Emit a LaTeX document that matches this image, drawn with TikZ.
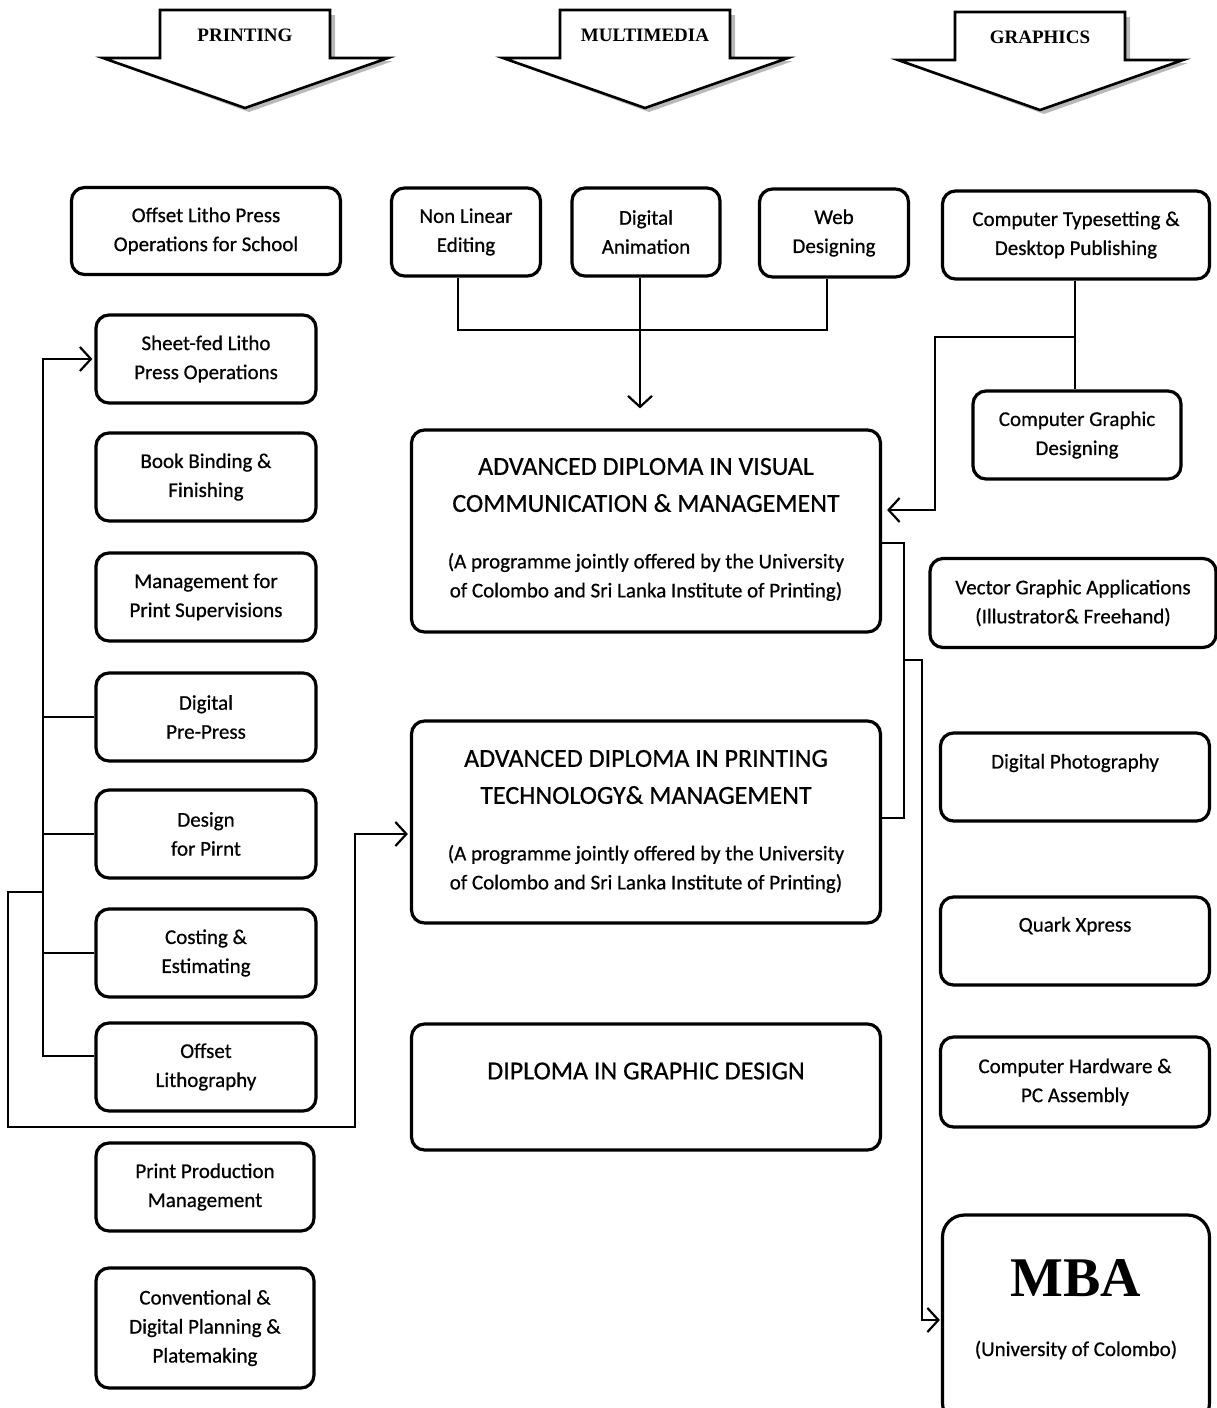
\documentclass[tikz,border=0pt]{standalone}
\usepackage{fontspec}
\setmainfont{Carlito}[FakeBold=0.6]
\newfontfamily\titleserif{Liberation Serif}
\usetikzlibrary{arrows.meta,calc}

\begin{document}
\begin{tikzpicture}[x=1pt,y=-1pt,
  course/.style={draw, line width=3.2pt, rounded corners=13pt, minimum width=220pt,
    minimum height=88pt, inner sep=0pt, align=center, font=\fontsize{21}{29}\selectfont},
  degree/.style={course, minimum width=469pt, minimum height=202pt},
  heading/.style={align=center, inner sep=0pt, font=\fontsize{26}{37}\selectfont},
  remark/.style={align=center, inner sep=0pt, font=\fontsize{21}{29}\selectfont},
  stream/.style={draw, fill=white, line width=2.6pt, line join=miter},
  streamshadow/.style={fill=gray!55},
  link/.style={line width=2.2pt},
  >={Straight Barb[length=11pt,width=24pt]}]
\useasboundingbox[fill=white] (0,0) rectangle (1217,1408);

% the three streams
\foreach \cx/\ty/\nm/\txt in {245/10/printing/PRINTING, 645/10/multimedia/MULTIMEDIA, 1040/12/graphics/GRAPHICS}{
  \fill[streamshadow] (\cx-80,\ty+5) -- (\cx+90,\ty+5) -- (\cx+90,\ty+51) -- (\cx+148,\ty+51)
    -- (\cx+4,\ty+102) -- (\cx-137,\ty+51) -- (\cx-80,\ty+51) -- cycle;
  \path[stream] (\cx-85,\ty) -- (\cx+85,\ty) -- (\cx+85,\ty+48) -- (\cx+143,\ty+48)
    -- (\cx,\ty+98) -- (\cx-142,\ty+48) -- (\cx-85,\ty+48) -- cycle;
  \node[font=\titleserif\bfseries\fontsize{19}{22}\selectfont] (\nm) at (\cx,\ty+25) {\txt};
}

% printing column
\node[course, minimum width=269pt, minimum height=87pt] (osch) at (206,231) {Offset Litho Press\\Operations for School};
\node[course] (sheet)    at (206,359)  {Sheet-fed Litho\\Press Operations};
\node[course] (binding)  at (206,477)  {Book Binding \&\\Finishing};
\node[course] (mgmt)     at (206,597)  {Management for\\Print Supervisions};
\node[course] (prepress) at (206,717)  {Digital\\Pre-Press};
\node[course] (design)   at (206,834)  {Design\\for Pirnt};
\node[course] (costing)  at (206,953)  {Costing \&\\Estimating};
\node[course] (offlitho) at (206,1067) {Offset\\Lithography};
\node[course, minimum width=218pt] (prodmgmt) at (205,1187) {Print Production\\Management};
\node[course, minimum width=218pt, minimum height=120pt] (conv) at (205,1328) {Conventional \&\\Digital Planning \&\\Platemaking};

% multimedia column
\node[course, minimum width=149pt] (nle)  at (466,232) {Non Linear\\Editing};
\node[course, minimum width=148pt] (dani) at (646,232) {Digital\\Animation};
\node[course, minimum width=149pt] (web)  at (834,233) {Web\\Designing};

\node[degree] (adv1) at (646,531) {};
\node[heading] (adv1h) at ($(adv1)+(0,-46)$) {ADVANCED DIPLOMA IN VISUAL\\COMMUNICATION \& MANAGEMENT};
\node[remark]  (adv1s) at ($(adv1)+(0,46)$) {(A programme jointly offered by the University\\of Colombo and Sri Lanka Institute of Printing)};
\node[degree] (adv2) at (646,822) {};
\node[heading] (adv2h) at ($(adv2)+(0,-45)$) {ADVANCED DIPLOMA IN PRINTING\\TECHNOLOGY\& MANAGEMENT};
\node[remark]  (adv2s) at ($(adv2)+(0,47)$) {(A programme jointly offered by the University\\of Colombo and Sri Lanka Institute of Printing)};
\node[degree, minimum height=126pt] (dgd) at (646,1087) {};
\node[heading] (dgdt) at ($(dgd)+(0,-16)$) {DIPLOMA IN GRAPHIC DESIGN};

% graphics column
\node[course, minimum width=267pt] (typeset)  at (1076,235) {Computer Typesetting \&\\Desktop Publishing};
\node[course, minimum width=208pt] (cgd)      at (1077,435) {Computer Graphic\\Designing};
\node[course, minimum width=286pt, minimum height=89pt] (vector) at (1073,603) {Vector Graphic Applications\\(Illustrator\& Freehand)};
\node[course, minimum width=269pt] (photo)    at (1075,777) {};
\node[remark] (photot) at ($(photo)+(0,-14)$) {Digital Photography};
\node[course, minimum width=269pt] (quark)    at (1075,941) {};
\node[remark] (quarkt) at ($(quark)+(0,-15)$) {Quark Xpress};
\node[course, minimum width=269pt, minimum height=90pt] (hardware) at (1075,1082) {Computer Hardware \&\\PC Assembly};
\node[course, minimum width=267pt, minimum height=210pt, rounded corners=22pt] (mba) at (1076,1320) {};
\node[inner sep=0pt, font=\titleserif\bfseries\fontsize{56}{60}\selectfont] (mbat) at ($(mba)+(0,-42)$) {MBA};
\node[remark] (mbau) at ($(mba)+(0,30)$) {(University of Colombo)};

% multimedia links
\draw[link] ([xshift=-8pt]nle.south) -- ++(0,52) -| ([xshift=-7pt]web.south);
\draw[link, ->] ([xshift=-6pt]dani.south) -- ([xshift=-6pt, yshift=20pt]adv1.north);

% printing links
\coordinate (spine) at (43,0);
\draw[link, ->] ([yshift=11pt]offlitho.west) -| (spine |- sheet.west) -- ([xshift=-2pt]sheet.west);
\draw[link] (prepress.west) -- (prepress.west -| spine);
\draw[link] (design.west) -- (design.west -| spine);
\draw[link] (costing.west) -- (costing.west -| spine);
\coordinate (j1) at (43,892);
\draw[link, ->] (j1) -- ++(-35,0) |- (355,1127) |- ([xshift=-2pt, yshift=-12pt]adv2.west);

% graphics links
\draw[link] (typeset.south -| 1075,0) -- (cgd.north -| 1075,0);
\coordinate (j2) at (1075,337);
\draw[link, ->] (j2) -- (935,337) |- ([xshift=5pt, yshift=21pt]adv1.east);
\draw[link] ([yshift=-12pt]adv1.east) -- ++(22,0) |- ([yshift=4pt]adv2.east);
\coordinate (j3) at (903,660);
\draw[link, ->] (j3) -- ++(19,0) |- ([xshift=-1pt]mba.west);
\end{tikzpicture}
\end{document}
